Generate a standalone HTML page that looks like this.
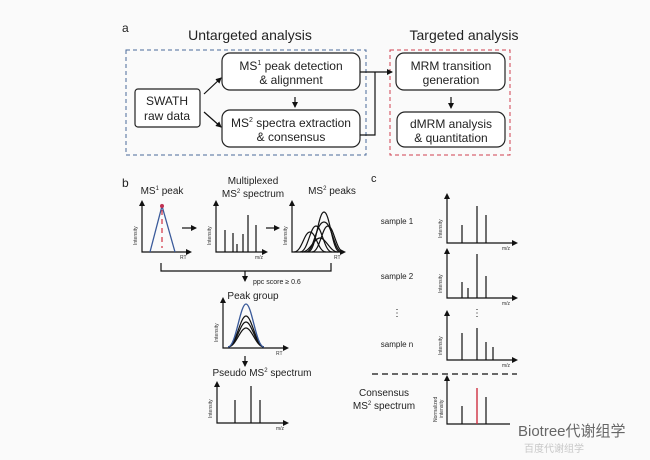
<!DOCTYPE html>
<html><head><meta charset="utf-8"><style>
html,body{margin:0;padding:0;background:#fafafa;}
svg{display:block;font-family:"Liberation Sans","Noto Sans CJK SC",sans-serif;}
</style></head><body>
<svg width="650" height="460" viewBox="0 0 650 460" xmlns="http://www.w3.org/2000/svg">
<defs>
<marker id="ar" markerWidth="6" markerHeight="6" refX="5" refY="3" orient="auto" markerUnits="userSpaceOnUse"><path d="M0,0 L6,3 L0,6 z" fill="#111"/></marker>
</defs>
<rect width="650" height="460" fill="#fafafa"/>
<g fill="#222">
<text x="122" y="32" font-size="12">a</text>
<text x="250" y="40" font-size="14" text-anchor="middle">Untargeted analysis</text>
<text x="464" y="40" font-size="14" text-anchor="middle">Targeted analysis</text>
</g>
<rect x="126" y="50" width="240" height="105" fill="none" stroke="#4a6a9a" stroke-dasharray="4,3"/>
<rect x="390" y="50" width="120" height="105" fill="none" stroke="#d04050" stroke-dasharray="4,3"/>
<g fill="#fff" stroke="#222" stroke-width="1.2">
<rect x="135" y="89" width="65" height="38" rx="3"/>
<rect x="222" y="53" width="138" height="37" rx="8"/>
<rect x="222" y="110" width="138" height="37" rx="8"/>
<rect x="396" y="53" width="109" height="37" rx="8"/>
<rect x="397" y="112" width="108" height="35" rx="8"/>
</g>
<g font-size="12" fill="#222" text-anchor="middle">
<text x="167" y="105">SWATH</text><text x="167" y="120">raw data</text>
<text x="291" y="70">MS<tspan font-size="7" dy="-5">1</tspan><tspan dy="5"> peak detection</tspan></text>
<text x="291" y="84">&amp; alignment</text>
<text x="291" y="127">MS<tspan font-size="7" dy="-5">2</tspan><tspan dy="5"> spectra extraction</tspan></text>
<text x="291" y="141">&amp; consensus</text>
<text x="451" y="70">MRM transition</text><text x="451" y="84">generation</text>
<text x="451" y="128">dMRM analysis</text><text x="451" y="142">&amp; quantitation</text>
</g>
<g stroke="#111" stroke-width="1.2" fill="none">
<path d="M204,94 L221,78" marker-end="url(#ar)"/>
<path d="M204,112 L221,127" marker-end="url(#ar)"/>
<path d="M295,97 L295,107" marker-end="url(#ar)"/>
<path d="M451,97 L451,108" marker-end="url(#ar)"/>
<path d="M360,72 L392,72" marker-end="url(#ar)"/>
<path d="M360,135 L375,135 L375,72"/>
</g>
<!-- panel b -->
<g fill="#222">
<text x="122" y="187" font-size="12">b</text>
<text x="162" y="194" font-size="10" text-anchor="middle">MS<tspan font-size="6" dy="-4">1</tspan><tspan dy="4"> peak</tspan></text>
<text x="253" y="184" font-size="10" text-anchor="middle">Multiplexed</text>
<text x="253" y="197" font-size="10" text-anchor="middle">MS<tspan font-size="6" dy="-4">2</tspan><tspan dy="4"> spectrum</tspan></text>
<text x="332" y="194" font-size="10" text-anchor="middle">MS<tspan font-size="6" dy="-4">2</tspan><tspan dy="4"> peaks</tspan></text>
<text x="253" y="284" font-size="7" >ppc score ≥ 0.6</text>
<text x="253" y="299" font-size="10" text-anchor="middle">Peak group</text>
<text x="262" y="376" font-size="10" text-anchor="middle">Pseudo MS<tspan font-size="6" dy="-4">2</tspan><tspan dy="4"> spectrum</tspan></text>
</g>
<g stroke="#111" stroke-width="1.2" fill="none">
<path d="M142,205 L142,252 L186,252" />
<path d="M216,205 L216,252 L262,252"/>
<path d="M292,205 L292,252 L340,252"/>
<path d="M223,302 L223,348 L283,348"/>
<path d="M217,386 L217,423 L283,423"/>
<path d="M182,228 L196,228" marker-end="url(#ar)"/>
<path d="M266,228 L279,228" marker-end="url(#ar)"/>
<path d="M161,263 L161,271 L331,271 L331,263"/>
<path d="M245,271 L245,281" marker-end="url(#ar)"/>
<path d="M245,356 L245,366" marker-end="url(#ar)"/>
<path d="M225,252V230M233,252V233M237,252V244M243,252V234M248,252V215M256,252V225"/>
<path d="M235,423V400M251,423V386M260,423V400"/>
<path d="M294,252 C302,252 304,232 310,232 C316,232 318,252 326,252"/>
<path d="M300,252 C308,252 310,226 316,226 C322,226 324,252 332,252"/>
<path d="M308,252 C316,252 318,212 324,212 C330,212 332,252 340,252"/>
<path d="M306,252 C314,252 316,222 324,222 C332,222 334,252 342,252"/>
<path d="M312,252 C320,252 322,226 328,226 C334,226 336,252 344,252"/>
<path d="M302,252 C310,252 314,238 320,238 C326,238 330,252 338,252"/>
<path d="M228,347 C236,347 240,316 246,316 C252,316 256,347 264,347"/>
<path d="M228,347 C236,347 240,322 246,322 C252,322 256,347 264,347"/>
<path d="M228,347 C236,347 240,328 246,328 C252,328 256,347 264,347"/>
</g>
<path d="M228,347 C236,347 240,304 246,304 C252,304 256,347 264,347" stroke="#3a5a9a" stroke-width="1.3" fill="none"/>
<path d="M150,252 L162,206 L175,252" stroke="#3a5a9a" stroke-width="1.3" fill="none"/>
<path d="M162,210 L162,248" stroke="#d03040" stroke-dasharray="5,4" stroke-width="1.2"/>
<circle cx="162" cy="206" r="2" fill="#c03050"/>
<g fill="#111" stroke="none">
<path d="M139,206 L142,200 L145,206z"/><path d="M186,249 L192,252 L186,255z"/>
<path d="M213,206 L216,200 L219,206z"/><path d="M262,249 L268,252 L262,255z"/>
<path d="M289,206 L292,200 L295,206z"/><path d="M340,249 L346,252 L340,255z"/>
<path d="M220,303 L223,297 L226,303z"/><path d="M283,345 L289,348 L283,351z"/>
<path d="M214,387 L217,381 L220,387z"/><path d="M283,420 L289,423 L283,426z"/>
</g>
<g font-size="5" fill="#333">
<text x="180" y="259">RT</text><text x="255" y="259">m/z</text><text x="334" y="259">RT</text>
<text x="276" y="355">RT</text><text x="276" y="430">m/z</text>
<text transform="translate(137,245) rotate(-90)">Intensity</text>
<text transform="translate(211,245) rotate(-90)">Intensity</text>
<text transform="translate(287,245) rotate(-90)">Intensity</text>
<text transform="translate(218,342) rotate(-90)">Intensity</text>
<text transform="translate(212,418) rotate(-90)">Intensity</text>
</g>
<!-- panel c -->
<g fill="#222">
<text x="371" y="182" font-size="11">c</text>
<text x="397" y="224" font-size="8" text-anchor="middle">sample 1</text>
<text x="397" y="279" font-size="8" text-anchor="middle">sample 2</text>
<text x="397" y="347" font-size="8" text-anchor="middle">sample n</text>
<text x="397" y="316" font-size="10" text-anchor="middle">⋮</text>
<text x="477" y="316" font-size="10" text-anchor="middle">⋮</text>
<text x="384" y="396" font-size="10" text-anchor="middle">Consensus</text>
<text x="384" y="409" font-size="10" text-anchor="middle">MS<tspan font-size="6" dy="-4">2</tspan><tspan dy="4"> spectrum</tspan></text>
</g>
<g stroke="#111" stroke-width="1.2" fill="none">
<path d="M447,198 L447,243 L512,243"/>
<path d="M447,253 L447,298 L512,298"/>
<path d="M447,315 L447,360 L512,360"/>
<path d="M447,380 L447,424 L510,424"/>
<path d="M462,243V225M477,243V206M486,243V215"/>
<path d="M462,298V282M468,298V288M477,298V254M486,298V276"/>
<path d="M462,360V333M477,360V328M486,360V342M493,360V347"/>
<path d="M462,424V406M486,424V397"/>
<path d="M372,374 L517,374" stroke-dasharray="6,4"/>
</g>
<path d="M477,424V388" stroke="#d03040" stroke-width="1.4"/>
<g fill="#111">
<path d="M444,199 L447,193 L450,199z"/><path d="M512,240 L518,243 L512,246z"/>
<path d="M444,254 L447,248 L450,254z"/><path d="M512,295 L518,298 L512,301z"/>
<path d="M444,316 L447,310 L450,316z"/><path d="M512,357 L518,360 L512,363z"/>
<path d="M444,381 L447,375 L450,381z"/>
</g>
<g font-size="5" fill="#333">
<text x="502" y="250">m/z</text><text x="502" y="305">m/z</text><text x="502" y="367">m/z</text>
<text transform="translate(442,238) rotate(-90)">Intensity</text>
<text transform="translate(442,293) rotate(-90)">Intensity</text>
<text transform="translate(442,355) rotate(-90)">Intensity</text>
<text transform="translate(437,422) rotate(-90)">Normalized</text>
<text transform="translate(443,418) rotate(-90)">intensity</text>
</g>
<text x="518" y="436" font-size="15" fill="#666">Biotree代谢组学</text>
<text x="524" y="452" font-size="10" fill="#c8c8c8">百度代谢组学</text>
</svg>
</body></html>
